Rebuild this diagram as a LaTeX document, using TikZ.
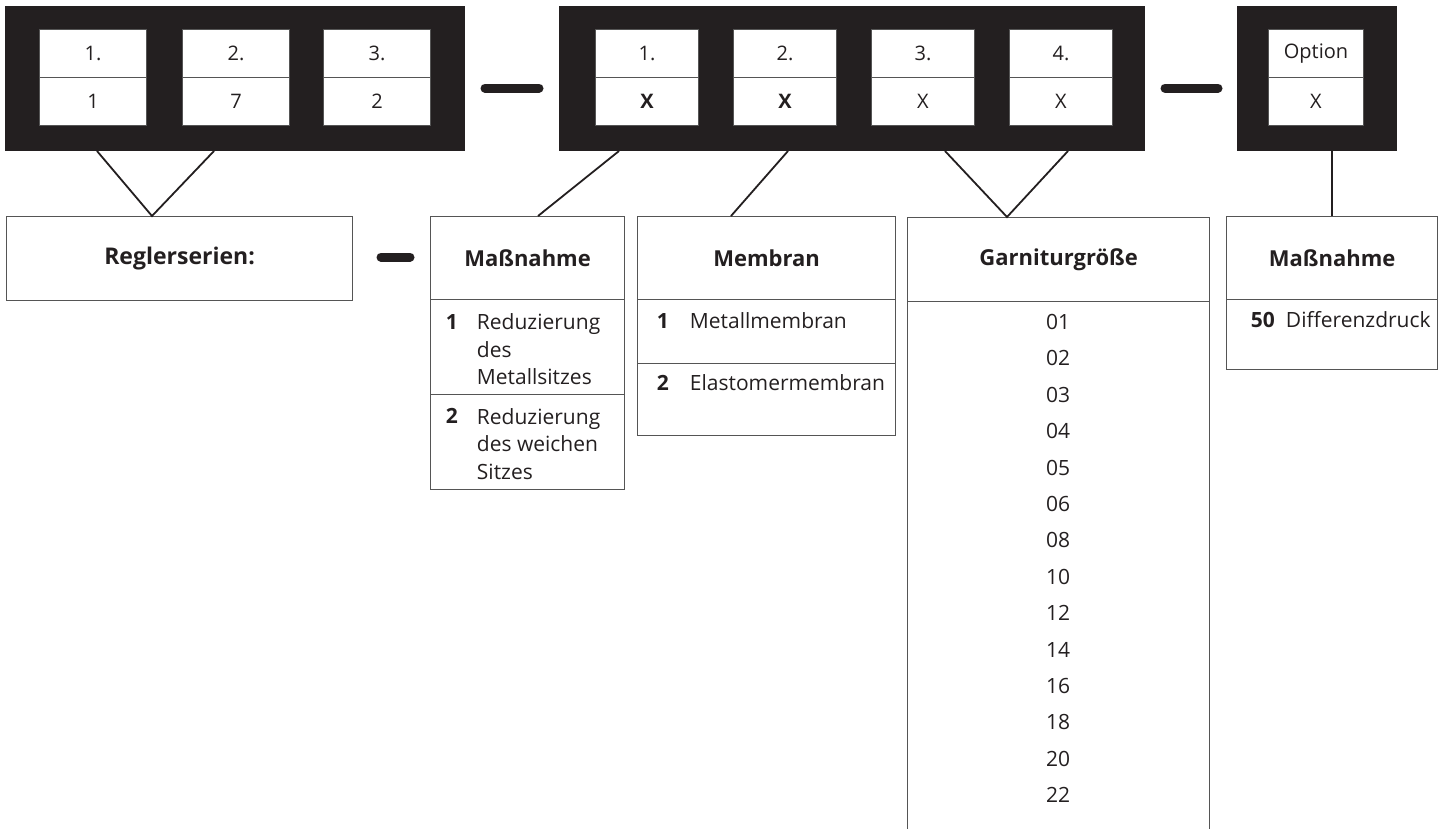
\documentclass[tikz,border=0pt]{standalone}
\usepackage{fontspec}
\setmainfont{Open Sans}

\definecolor{ink}{HTML}{231F20}
\definecolor{rulegray}{HTML}{555555}

\tikzset{
  codeblock/.style={fill=ink, draw=none, anchor=north west, inner sep=0pt, minimum height=145pt},
  cell/.style={fill=white, draw=rulegray, line width=1pt, anchor=north west, inner sep=0pt, minimum height=47.5pt, text=ink, font=\fontsize{20}{22}\selectfont},
  frame/.style={draw=rulegray, line width=1.2pt, anchor=north west, inner sep=0pt, text=ink},
  headbox/.style={frame, font=\bfseries\fontsize{22}{26}\selectfont},
  link/.style={draw=ink, line width=1.8pt},
  hyph/.style={draw=ink, line width=9pt, line cap=round},
  rowtext/.style={anchor=west, inner sep=0.75pt, text=ink, align=left, font=\fontsize{21}{27.5}\selectfont},
  rownum/.style={rowtext, font=\bfseries\fontsize{21}{27.5}\selectfont},
  sizeno/.style={anchor=center, inner sep=0.75pt, text=ink, font=\fontsize{21}{24}\selectfont},
}

\begin{document}
\begin{tikzpicture}[x=1pt,y=1pt,yscale=-1,xscale=1]
		\useasboundingbox (0,0) rectangle (1442,828);
		\clip (0,0) rectangle (1442,828);

		% Black code blocks
		\node[codeblock, minimum width=460pt] (blkA) at (5,6) {};
		\node[codeblock, minimum width=586pt] (blkB) at (559,6) {};
		\node[codeblock, minimum width=160pt] (blkC) at (1237,6) {};

		% Cells of the first block (series)
		\node[cell, minimum width=107pt] (a1t) at (39,29) {1.};
		\node[cell, minimum width=107pt] (a1b) at (39,77) {1};
		\node[cell, minimum width=107pt] (a2t) at (182,29) {2.};
		\node[cell, minimum width=107pt] (a2b) at (182,77) {7};
		\node[cell, minimum width=107pt] (a3t) at (323,29) {3.};
		\node[cell, minimum width=107pt] (a3b) at (323,77) {2};

		% Cells of the second block
		\node[cell, minimum width=103pt] (b1t) at (595,29) {1.};
		\node[cell, minimum width=103pt] (b1b) at (595,77) {\textbf{X}};
		\node[cell, minimum width=103pt] (b2t) at (733,29) {2.};
		\node[cell, minimum width=103pt] (b2b) at (733,77) {\textbf{X}};
		\node[cell, minimum width=103pt] (b3t) at (871,29) {3.};
		\node[cell, minimum width=103pt] (b3b) at (871,77) {X};
		\node[cell, minimum width=103pt] (b4t) at (1009,29) {4.};
		\node[cell, minimum width=103pt] (b4b) at (1009,77) {X};

		% Cell of the option block
		\node[cell, minimum width=95pt] (c1t) at (1268,29) {Option};
		\node[cell, minimum width=95pt] (c1b) at (1268,77) {X};

		% Hyphens between the blocks
		\draw[hyph] (485,88) -- (539,88);
		\draw[hyph] (1165,88) -- (1218,88);
		\draw[hyph] (381,257) -- (410,257);

		% Series box
		\node[headbox, minimum width=346pt, minimum height=84pt, font=\bfseries\fontsize{23}{26}\selectfont] (reg) at (6,216) {Reglerserien:};

		% Maßnahme box
		\node[headbox, minimum width=194pt, minimum height=83pt] (mas) at (430,216) {Maßnahme};
		\node[frame, minimum width=194pt, minimum height=95pt] (masA) at (430,299) {};
		\node[frame, minimum width=194pt, minimum height=95pt] (masB) at (430,394) {};
		\node[rownum] (masAn) at (445,322) {1};
		\node[rowtext] (masAt) at (476,349.5) {Reduzierung\\des\\Metallsitzes};
		\node[rownum] (masBn) at (445,416) {2};
		\node[rowtext] (masBt) at (476,444) {Reduzierung\\des weichen\\Sitzes};

		% Membran box
		\node[headbox, minimum width=258pt, minimum height=83pt] (mem) at (637,216) {Membran};
		\node[frame, minimum width=258pt, minimum height=64pt] (memA) at (637,299) {};
		\node[frame, minimum width=258pt, minimum height=72pt] (memB) at (637,363) {};
		\node[rownum] (memAn) at (656,321) {1};
		\node[rowtext] (memAt) at (689,321) {Metallmembran};
		\node[rownum] (memBn) at (656,383) {2};
		\node[rowtext] (memBt) at (689,383) {Elastomermembran};

		% Garniturgröße box (runs off the bottom)
		\node[headbox, minimum width=302pt, minimum height=84pt] (gar) at (907,217) {Garniturgröße};
		\node[frame, minimum width=302pt, minimum height=545pt] (garL) at (907,301) {};
		\node[sizeno] (g01) at (1058,322) {01};
		\node[sizeno] (g02) at (1058,358.4) {02};
		\node[sizeno] (g03) at (1058,394.8) {03};
		\node[sizeno] (g04) at (1058,431.2) {04};
		\node[sizeno] (g05) at (1058,467.6) {05};
		\node[sizeno] (g06) at (1058,504) {06};
		\node[sizeno] (g08) at (1058,540.4) {08};
		\node[sizeno] (g10) at (1058,576.8) {10};
		\node[sizeno] (g12) at (1058,613.2) {12};
		\node[sizeno] (g14) at (1058,649.6) {14};
		\node[sizeno] (g16) at (1058,686) {16};
		\node[sizeno] (g18) at (1058,722.4) {18};
		\node[sizeno] (g20) at (1058,758.8) {20};
		\node[sizeno] (g22) at (1058,795.2) {22};

		% Option box
		\node[headbox, minimum width=211pt, minimum height=83pt] (opt) at (1226,216) {Maßnahme};
		\node[frame, minimum width=211pt, minimum height=70pt] (optA) at (1226,299) {};
		\node[rownum] (optAn) at (1250,320) {50};
		\node[rowtext] (optAt) at (1285,320) {Differenzdruck};

		% End points of the connectors
		\coordinate (pA1) at (97,151);
		\coordinate (pA2) at (214,151);
		\coordinate (regtip) at (152,216);
		\coordinate (pB1) at (619,151);
		\coordinate (mastip) at (538,216);
		\coordinate (pB2) at (788,151);
		\coordinate (memtip) at (731,216);
		\coordinate (pB3) at (945,151);
		\coordinate (pB4) at (1068,151);
		\coordinate (gartip) at (1007,217);

		% Connectors from the blocks to the boxes
		\draw[link] (pA1) -- (regtip) -- (pA2);
		\draw[link] (pB1) -- (mastip);
		\draw[link] (pB2) -- (memtip);
		\draw[link] (pB3) -- (gartip) -- (pB4);
		\draw[link] (blkC.south -| opt.north) -- (opt.north);
	\end{tikzpicture}
\end{document}
